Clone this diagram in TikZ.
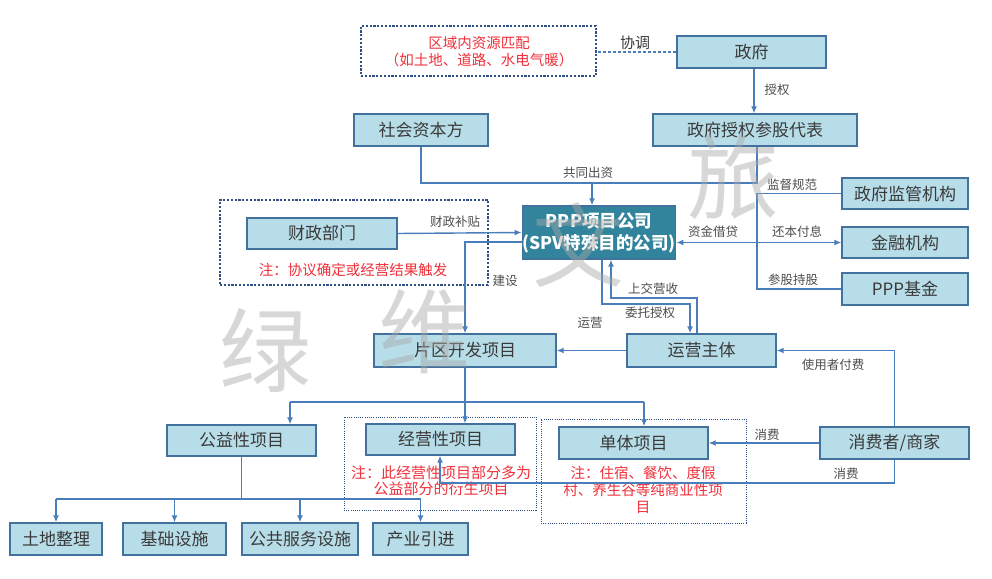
\documentclass[tikz,border=0pt]{standalone}
\usepackage{fontspec}
\setmainfont{Noto Sans CJK SC}
\usetikzlibrary{arrows.meta}
\definecolor{boxfill}{HTML}{B7DDE8}
\definecolor{boxline}{HTML}{41719C}
\definecolor{connc}{HTML}{4A7EBB}
\definecolor{tealc}{HTML}{31849B}
\definecolor{navyc}{HTML}{2F4F86}
\definecolor{txtc}{HTML}{3A3A3A}
\definecolor{lblc}{HTML}{4D4D4D}
\definecolor{notec}{HTML}{F0303A}
\definecolor{wmc}{HTML}{A8A8A8}
\newcommand\bx[6]{\node[box, minimum width={(#4-#2)*1pt}, minimum height={(#5-#3)*1pt}] (#1) at ({(#2+#4)/2},{(#3+#5)/2}) {#6};}
\newcommand\dbx[6]{\node[#6, minimum width={(#4-#2)*1pt}, minimum height={(#5-#3)*1pt}] (#1) at ({(#2+#4)/2},{(#3+#5)/2}) {};}
\begin{document}
\begin{tikzpicture}[x=1pt,y=-1pt,
  box/.style={draw=boxline, fill=boxfill, line width=1.3pt, inner sep=0pt, text=txtc, font=\fontsize{17}{20}\selectfont},
  pppbox/.style={box, fill=tealc, text=white, font=\fontsize{17.5}{22}\selectfont\bfseries, align=center},
  conn/.style={draw=connc, line width=1.4pt},
  arr/.style={conn, -{Latex[length=7pt,width=6pt]}},
  lab/.style={text=lblc, font=\fontsize{12.5}{14}\selectfont, inner sep=0pt},
  notetxt/.style={text=notec, font=\fontsize{14.5}{17}\selectfont, align=center, inner sep=0pt},
  thickdot/.style={draw=navyc, line width=2.2pt, dash pattern=on 2.2pt off 1.6pt, inner sep=0pt},
  thindot/.style={draw=navyc, line width=0.9pt, dash pattern=on 1pt off 1.2pt, inner sep=0pt},
  wm/.style={text=wmc, opacity=0.45, font=\fontsize{92}{94}\selectfont, inner sep=0pt}
]
\fill[white] (0,0) rectangle (992,578);
\useasboundingbox (0,0) rectangle (992,578);

% dotted frames
\dbx{d1}{361}{26}{596}{76}{thickdot}
\dbx{d2}{220}{200}{488}{285}{thickdot}
\dbx{d3}{344}{417}{536}{510}{thindot}
\dbx{d4}{541}{419}{746}{523}{thindot}

% boxes
\bx{gov}{677}{36}{826}{68}{政府}
\bx{rep}{653}{114}{857}{146}{政府授权参股代表}
\bx{soc}{354}{114}{488}{146}{社会资本方}
\node[pppbox, minimum width=148pt, minimum height=53pt] (ppp) at (599,232.5) {PPP项目公司\\(SPV特殊目的公司)};
\bx{czbm}{247}{218}{397}{249}{财政部门}
\bx{reg}{842}{178}{968}{209}{政府监管机构}
\bx{bank}{842}{227}{968}{258}{金融机构}
\bx{fund}{842}{273}{968}{305}{PPP基金}
\bx{zone}{374}{334}{556}{367}{片区开发项目}
\bx{oper}{627}{334}{776}{367}{运营主体}
\bx{pub}{167}{425}{316}{456}{公益性项目}
\bx{bus}{366}{424}{515}{455}{经营性项目}
\bx{single}{559}{427}{708}{459}{单体项目}
\bx{cons}{820}{427}{969}{459}{消费者/商家}
\bx{land}{10}{523}{102}{555}{土地整理}
\bx{infra}{123}{523}{226}{555}{基础设施}
\bx{pubsvc}{242}{523}{358}{555}{公共服务设施}
\bx{ind}{373}{523}{468}{555}{产业引进}

% notes
\node[notetxt] (n1) at (479,51.5) {区域内资源匹配\\（如土地、道路、水电气暖）};
\node[notetxt] (n2) at (353,270) {注：协议确定或经营结果触发};
\node[notetxt, font=\fontsize{15}{16.5}\selectfont] (n3) at (441,481) {注：此经营性项目部分多为\\公益部分的衍生项目};
\node[notetxt] (n4) at (643,490) {注：住宿、餐饮、度假\\村、养生谷等纯商业性项\\目};

% coordination
\draw[draw=connc, line width=1.2pt, dash pattern=on 3pt off 2pt] (gov.west) -- (gov.west -| d1.east);
\node[text=txtc, font=\fontsize{15}{17}\selectfont, inner sep=0pt] (l0) at (635,43) {协调};

% authorisation
\draw[arr] ([xshift=2.5pt]gov.south) -- ([xshift=2.5pt]gov.south |- rep.north);
\node[lab] (l1) at (777,90) {授权};

% joint investment
\coordinate (j1) at (592,183);
\draw[conn] (soc.south) |- (j1) -| ([xshift=2pt]rep.south);
\draw[arr] (j1) -- (j1 |- ppp.north);
\node[lab] (l2) at (588,173) {共同出资};

% fiscal subsidy
\draw[arr] (czbm.east) -- (ppp.west);
\node[lab] (l3) at (455,222) {财政补贴};

% construction
\draw[arr] ([yshift=-9.5pt]ppp.west) -| (zone.north);
\node[lab] (l4) at (505,281) {建设};

% entrust / revenue
\coordinate (w1) at (690,304);
\draw[arr] ([xshift=3pt]ppp.south) |- (w1) -- (w1 |- oper.north);
\coordinate (s1) at (611,298);
\draw[arr] ([xshift=-4.5pt]oper.north) |- (s1) -- (s1 |- ppp.south);
\node[lab] (l5) at (653,289) {上交营收};
\node[lab] (l6) at (650,313) {委托授权};

% operation
\draw[arr] (oper.west) -- (zone.east);
\node[lab] (l7) at (590,323) {运营};

% user fees
\draw[arr] (cons.north) |- (oper.east);
\node[lab] (l8) at (833,365) {使用者付费};

% right side
\coordinate (vx) at (757,0);
\draw[conn] (reg.west) -| (vx |- fund.west) -- (fund.west);
\draw[conn, {Latex[length=7pt,width=6pt]}-{Latex[length=7pt,width=6pt]}] (ppp.east |- bank.west) -- (bank.west);
\node[lab] (l9) at (792,185) {监督规范};
\node[lab] (l10) at (713,232) {资金借贷};
\node[lab] (l11) at (797,232) {还本付息};
\node[lab] (l12) at (793,280) {参股持股};

% zone split
\coordinate (hl) at (290,402);
\coordinate (hr) at (644,402);
\draw[arr] (zone.south) -- (zone.south |- bus.north);
\draw[conn] (hl) -- (hr);
\draw[arr] (hl) -- (hl |- pub.north);
\draw[arr] (hr) -- (hr |- single.north);

% consumption
\draw[arr] (cons.west) -- (single.east);
\node[lab] (l13) at (767,435) {消费};
\coordinate (c1) at (440,483);
\draw[arr] (cons.south) |- (c1) -- (c1 |- bus.south);
\node[lab] (l14) at (846,474) {消费};

% public projects
\coordinate (p1) at (242,499);
\draw[conn] (pub.south) -- (pub.south |- p1);
\draw[conn] (land.north |- p1) -- (ind.north |- p1);
\draw[arr] (land.north |- p1) -- (land.north);
\draw[arr] (infra.north |- p1) -- (infra.north);
\draw[arr] (pubsvc.north |- p1) -- (pubsvc.north);
\draw[arr] (ind.north |- p1) -- (ind.north);

% watermark
\node[wm] (wm1) at (265,350) {绿};
\node[wm] (wm2) at (424,332) {维};
\node[wm] (wm3) at (578,245) {文};
\node[wm] (wm4) at (733,177) {旅};
\end{tikzpicture}
\end{document}
